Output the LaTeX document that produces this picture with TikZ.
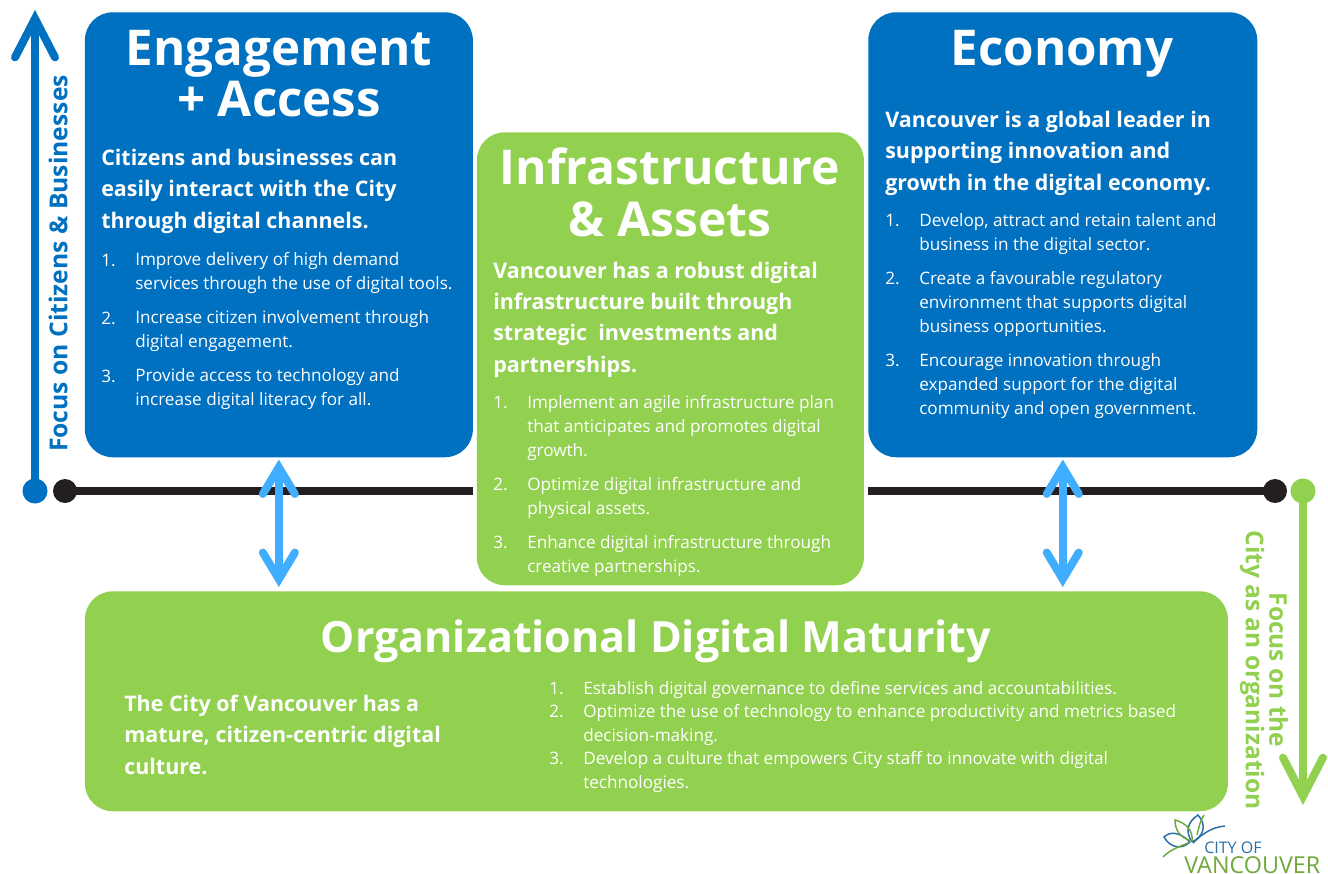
\documentclass[tikz,border=0pt]{standalone}
\usepackage{fontspec}
\setmainfont{Open Sans}
\usetikzlibrary{arrows.meta}
\definecolor{cityblue}{HTML}{0070C0}
\definecolor{citygreen}{HTML}{92D050}
\definecolor{linkblue}{HTML}{40ADFF}
\definecolor{axisblack}{HTML}{231F20}
\definecolor{logoblue}{HTML}{2A6EA8}
\definecolor{logogreen}{HTML}{6FA83C}
\tikzset{
  areabox/.style={rounded corners=21pt,inner sep=0pt,anchor=north west},
  areatitle/.style={text=white,anchor=base,align=center,font=\fontsize{37}{37}\selectfont\bfseries},
  arealead/.style={text=white,anchor=base west,align=left,inner sep=0pt,font=\fontsize{16.1}{23.3}\selectfont\bfseries},
  areaitem/.style={text=white,anchor=base west,align=left,inner sep=0pt,font=\fontsize{12.85}{17.7}\selectfont},
  linkarrow/.style={line width=6pt,linkblue,line cap=round,
    {Straight Barb[length=20pt,width=24pt,line cap=round,line join=miter]}-{Straight Barb[length=20pt,width=24pt,line cap=round,line join=miter]}},
  focusarrow/.style={line width=6pt,-{Straight Barb[length=29pt,width=30pt,line cap=round,line join=miter]}},
  axisline/.style={line width=6pt,axisblack},
  logoline/.style={line width=1.1pt},
}
\begin{document}
\begin{tikzpicture}[x=0.75pt,y=-0.75pt]
    \useasboundingbox (0,0) rectangle (1328,874);
    % axis behind everything
    \coordinate (axisleft) at (65,491);
    \coordinate (axisright) at (1275,491);
    \coordinate (axisgapa) at (473,491);
    \coordinate (axisgapb) at (868,491);
    \draw[axisline] (axisleft) -- (axisgapa);
    \draw[axisline] (axisgapb) -- (axisright);
    \fill[axisblack] (axisleft) circle (9pt);
    \fill[axisblack] (axisright) circle (9pt);
    %
    \node[areabox,fill=cityblue,minimum width=291pt,minimum height=333.75pt] (engagement) at (84.6,12) {};
    \node[areabox,fill=citygreen,minimum width=290.25pt,minimum height=339.75pt] (infrastructure) at (476.6,132) {};
    \node[areabox,fill=cityblue,minimum width=291.75pt,minimum height=333.75pt] (economy) at (868,12) {};
    \node[areabox,fill=citygreen,minimum width=857.25pt,minimum height=165pt] (maturity) at (84.6,591) {};
    %
    \node[areatitle] (engagementtitle) at (279,65) {Engagement};
    \node[areatitle] (accesstitle) at (279,117) {+ Access};
    \node[arealead] (engagementlead) at (101,228) {Citizens and businesses can\\easily interact with the City\\through digital channels.};
    \foreach \num/\ypos/\yend/\body in {1/266/289/{Improve delivery of high demand\\services through the use of digital tools.},
        2/324/347/{Increase citizen involvement through\\digital engagement.},
        3/382/405/{Provide access to technology and\\increase digital literacy for all.}} {
      \node[areaitem] (engagementnum\num) at (101,\ypos) {\num.};
      \node[areaitem] (engagementitem\num) at (135,\yend) {\body};
    }
    %
    \node[areatitle,font=\fontsize{36}{36}\selectfont\bfseries] (infrastructuretitle) at (670,184) {Infrastructure};
    \node[areatitle,font=\fontsize{36}{36}\selectfont\bfseries] (assetstitle) at (670,236) {\& Assets};
    \node[arealead] (infrastructurelead) at (493,372) {Vancouver has a robust digital\\infrastructure built through\\strategic\ \ investments and\\partnerships.};
    \foreach \num/\ypos/\yend/\body in {1/408/456/{Implement an agile infrastructure plan\\that anticipates and promotes digital\\growth.},
        2/490/514/{Optimize digital infrastructure and\\physical assets.},
        3/548/572/{Enhance digital infrastructure through\\creative partnerships.}} {
      \node[areaitem] (infrastructurenum\num) at (493,\ypos) {\num.};
      \node[areaitem] (infrastructureitem\num) at (527,\yend) {\body};
    }
    %
    \node[areatitle] (economytitle) at (1062,65) {Economy};
    \node[arealead] (economylead) at (885,190) {Vancouver is a global leader in\\supporting innovation and\\growth in the digital economy.};
    \foreach \num/\ypos/\yend/\body in {1/226/250/{Develop, attract and retain talent and\\business in the digital sector.},
        2/284/332/{Create a favourable regulatory\\environment that supports digital\\business opportunities.},
        3/366/414/{Encourage innovation through\\expanded support for the digital\\community and open government.}} {
      \node[areaitem] (economynum\num) at (885,\ypos) {\num.};
      \node[areaitem] (economyitem\num) at (919,\yend) {\body};
    }
    %
    \node[areatitle,font=\fontsize{32.3}{32.3}\selectfont\bfseries] (maturitytitle) at (656,652.5) {Organizational Digital Maturity};
    \node[arealead] (maturitylead) at (124,774) {The City of Vancouver has a\\mature, citizen-centric digital\\culture.};
    \foreach \num/\ypos/\yend/\body in {1/694/694/{Establish digital governance to define services and accountabilities.},
        2/717/741/{Optimize the use of technology to enhance productivity and metrics based\\decision-making.},
        3/764/788/{Develop a culture that empowers City staff to innovate with digital\\technologies.}} {
      \node[areaitem] (maturitynum\num) at (549,\ypos) {\num.};
      \node[areaitem] (maturityitem\num) at (583,\yend) {\body};
    }
    %
    \draw[linkarrow,shorten <=1.5pt,shorten >=3pt] (engagement.south) -- (engagement.south |- maturity.north);
    \draw[linkarrow,shorten <=1.5pt,shorten >=3pt] (economy.south) -- (economy.south |- maturity.north);
    %
    \coordinate (citizensbase) at (35,491);
    \coordinate (citizenstip) at (35,10);
    \draw[focusarrow,cityblue] (citizensbase) -- (citizenstip);
    \fill[cityblue] (citizensbase) circle (9.4pt);
    \node[rotate=90,text=cityblue,font=\fontsize{18.5}{18.5}\selectfont\bfseries,inner sep=0pt] (citizensfocus) at (58,263.5) {Focus on Citizens \& Businesses};
    %
    \coordinate (citybase) at (1303,491);
    \coordinate (citytip) at (1303,805);
    \draw[focusarrow,citygreen] (citybase) -- (citytip);
    \fill[citygreen] (citybase) circle (9.4pt);
    \node[rotate=-90,text=citygreen,align=center,font=\fontsize{18.35}{17.5}\selectfont\bfseries,inner sep=0pt] (cityfocus) at (1264,670) {Focus on the\\City as an organization};
    %
    \draw[logoline,logoblue] (1190,842) .. controls (1180,832) and (1170,831) .. (1164,837) .. controls (1170,848) and (1182,850) .. (1190,842);
    \draw[logoline,logoblue] (1192,842) .. controls (1184,830) and (1189,821) .. (1198,815) .. controls (1207,825) and (1204,836) .. (1192,842);
    \draw[logoline,logogreen] (1192,841) .. controls (1180,838) and (1175,830) .. (1175,820) .. controls (1186,823) and (1193,830) .. (1192,841);
    \draw[logoline,logogreen] (1163,857) .. controls (1170,850) and (1178,847) .. (1188,843);
    \draw[logoline,logogreen] (1197,835) .. controls (1199,827) and (1200,821) .. (1204,815);
    \draw[logoline,logoblue] (1193,843) .. controls (1202,834) and (1212,827) .. (1225,826);
    \node[anchor=base west,inner sep=0pt,text=logoblue,font=\fontsize{12}{12}\selectfont] (logocity) at (1204,853) {CITY OF};
    \node[anchor=base west,inner sep=0pt,text=logogreen,font=\fontsize{17.5}{17.5}\selectfont] (logoname) at (1184,873) {VANCOUVER};
\end{tikzpicture}
\end{document}
